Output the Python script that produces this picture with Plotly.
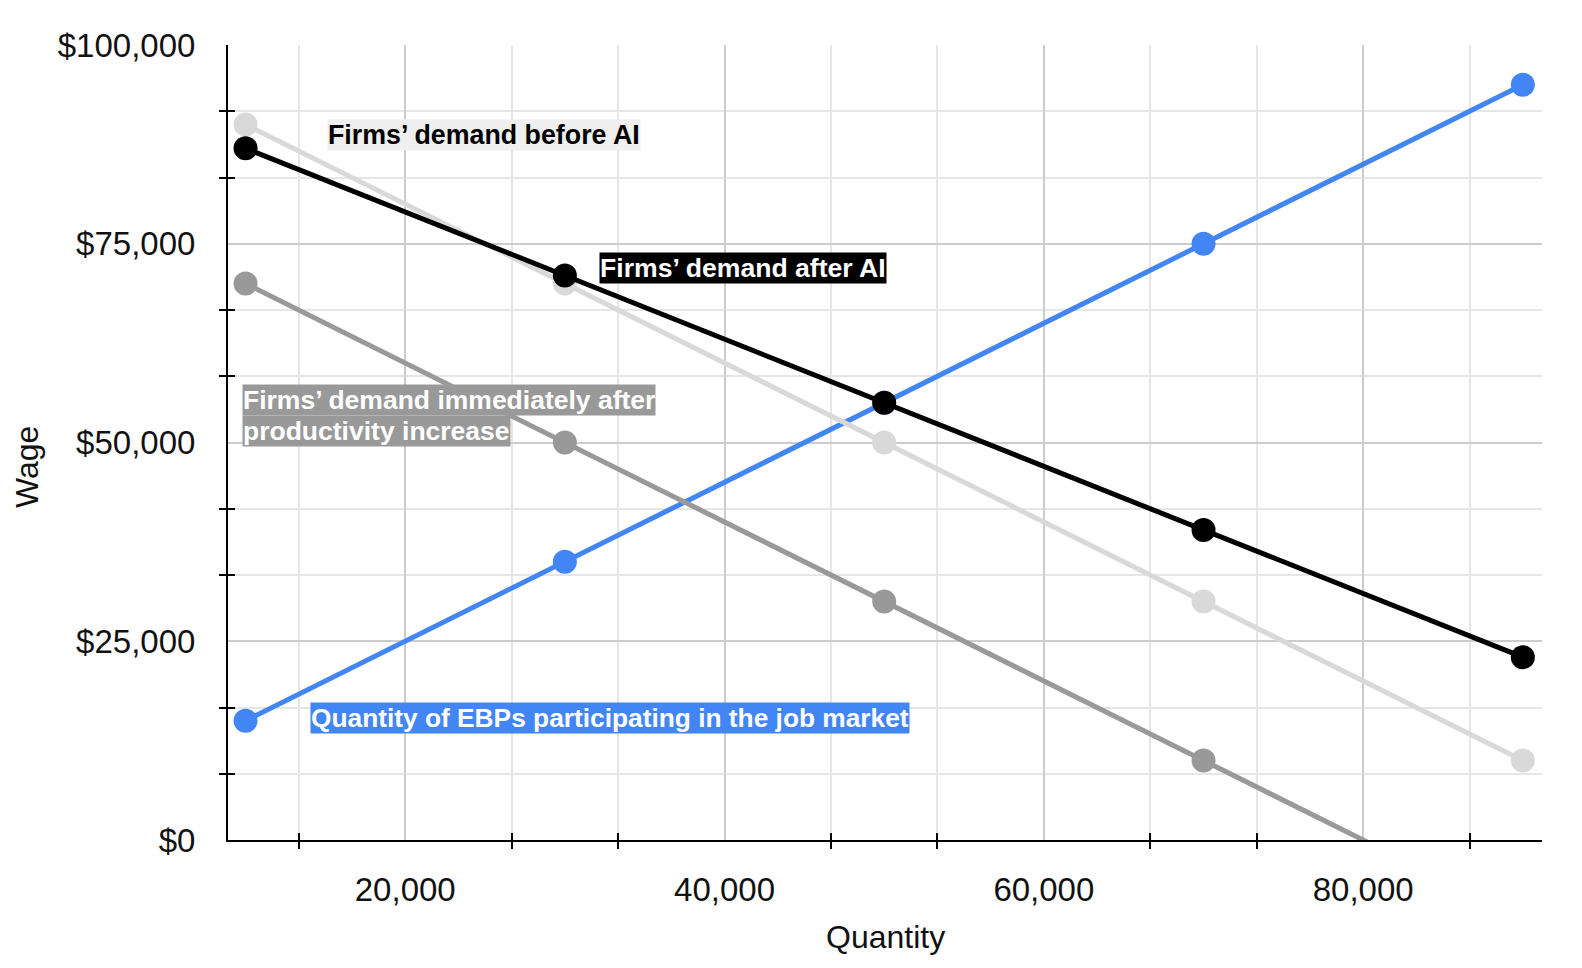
import plotly.graph_objects as go

# ---- data ----
quantity = [10000, 30000, 50000, 70000, 90000]
demand_before_ai = [90000, 70000, 50000, 30000, 10000]
demand_after_ai = [87000, 71000, 55000, 39000, 23000]
demand_immediately_after = [70000, 50000, 30000, 10000, -10000]
ebp_supply = [15000, 35000, 55000, 75000, 95000]

label_before = "Firms’ demand before AI"
label_after = "Firms’ demand after AI"
label_immediate_1 = "Firms’ demand immediately after"
label_immediate_2 = "productivity increase"
label_supply = "Quantity of EBPs participating in the job market"

FONT = "Liberation Sans, Arial, sans-serif"
C_LIGHT = "#d9d9d9"
C_GRAY = "#999999"
C_BLACK = "#000000"
C_BLUE = "#4285f4"
TXT = "#111111"

XR = [8900, 91200]
YR = [0, 100000]
X_MAJOR, Y_MAJOR = 20000, 25000
X_MINOR, Y_MINOR = X_MAJOR / 3, Y_MAJOR / 3


def minor_vals(lo, hi, step, major):
    vals = []
    k = int(lo // step)
    while k * step <= hi:
        v = k * step
        if lo <= v <= hi and abs(v / major - round(v / major)) > 1e-6:
            vals.append(v)
        k += 1
    return vals


fig = go.Figure()


def add_series(y, color, name):
    fig.add_trace(go.Scatter(
        x=quantity, y=y, mode="lines+markers", name=name,
        line=dict(color=color, width=5),
        marker=dict(color=color, size=24),
        cliponaxis=True, showlegend=False,
    ))


add_series(ebp_supply, C_BLUE, label_supply)
add_series(demand_before_ai, C_LIGHT, label_before)
add_series(demand_immediately_after, C_GRAY, label_immediate_1)
add_series(demand_after_ai, C_BLACK, label_after)

axis_common = dict(
    showline=True, linecolor="black", linewidth=2,
    zeroline=False, ticks="",
    gridcolor="#cccccc", gridwidth=2,
    tickfont=dict(family=FONT, size=33, color=TXT),
)

# page body has an 8px margin; margins are shifted to compensate
fig.update_layout(
    width=1582, height=968,
    margin=dict(l=220, r=48, t=37, b=136),
    paper_bgcolor="white", plot_bgcolor="white",
    font=dict(family=FONT, color=TXT),
    xaxis=dict(
        range=XR, tick0=0, dtick=X_MAJOR, tickformat=",d",
        ticklabelstandoff=19,
        minor=dict(dtick=X_MINOR, showgrid=True, gridcolor="#e6e6e6", gridwidth=2,
                   ticks="outside", ticklen=7, tickwidth=2, tickcolor="black"),
        **axis_common,
    ),
    yaxis=dict(
        range=YR, tick0=0, dtick=Y_MAJOR, tickprefix="$", tickformat=",d",
        ticklabelstandoff=24,
        minor=dict(dtick=Y_MINOR, showgrid=True, gridcolor="#e6e6e6", gridwidth=2,
                   ticks="outside", ticklen=7, tickwidth=2, tickcolor="black"),
        **axis_common,
    ),
    xaxis2=dict(
        range=XR, overlaying="x", side="bottom",
        tickmode="array", tickvals=minor_vals(XR[0], XR[1], X_MINOR, X_MAJOR),
        ticks="inside", ticklen=7, tickwidth=2, tickcolor="black",
        showgrid=False, zeroline=False, showline=False, showticklabels=False,
    ),
    yaxis2=dict(
        range=YR, overlaying="y", side="left",
        tickmode="array", tickvals=minor_vals(YR[0], YR[1], Y_MINOR, Y_MAJOR),
        ticks="inside", ticklen=7, tickwidth=2, tickcolor="black",
        showgrid=False, zeroline=False, showline=False, showticklabels=False,
    ),
)

# invisible trace to keep overlay axes alive
fig.add_trace(go.Scatter(x=[XR[0]], y=[YR[0]], xaxis="x2", yaxis="y2",
                         mode="markers", marker=dict(opacity=0), showlegend=False,
                         hoverinfo="skip"))


def label(text, x, y, bg, fg, size):
    fig.add_annotation(
        x=x, y=y, xref="x", yref="y", xanchor="left", yanchor="middle",
        text="<b>" + text + "</b>", showarrow=False,
        font=dict(family=FONT, size=size, color=fg),
        bgcolor=bg, borderpad=0,
    )


label(label_before, 15100, 88700, "#efefef", "#000000", 26.8)
label(label_after, 32150, 71950, "#000000", "#ffffff", 26.6)
label(label_immediate_1, 9800, 55350, C_GRAY, "#ffffff", 26.5)
label(label_immediate_2, 9800, 51450, C_GRAY, "#ffffff", 26.5)
label(label_supply, 14050, 15400, C_BLUE, "#ffffff", 26.3)

# axis titles
fig.add_annotation(x=(27 - 228) / 1314, y=(840 - 467) / 795, xref="paper", yref="paper",
                   text="Wage", textangle=-90, showarrow=False,
                   xanchor="center", yanchor="middle", height=38,
                   font=dict(family=FONT, size=32, color=TXT))
fig.add_annotation(x=0.5, y=(840 - 937) / 795, xref="paper", yref="paper",
                   text="Quantity", showarrow=False,
                   xanchor="center", yanchor="middle",
                   font=dict(family=FONT, size=32, color=TXT))

fig.write_html("out.html")
